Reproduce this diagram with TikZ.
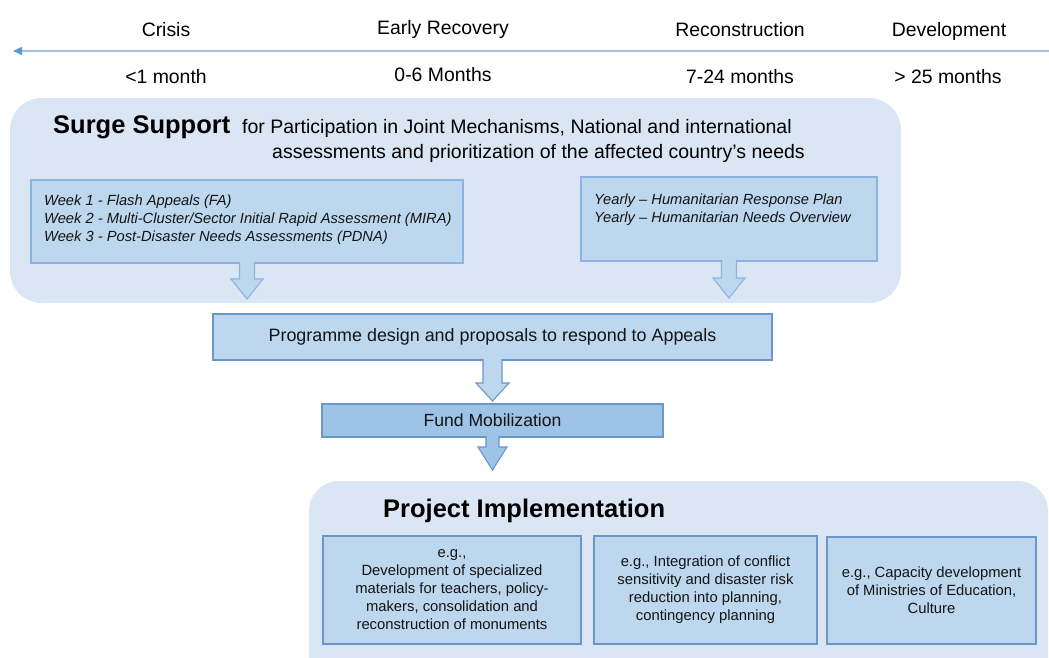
\documentclass[tikz,border=0pt]{standalone}
\usepackage{fontspec}
\setmainfont{Liberation Sans}
\usetikzlibrary{arrows.meta,calc}

\definecolor{panel}{HTML}{DAE6F3}
\definecolor{cell}{HTML}{BDD7EE}
\definecolor{cellline}{HTML}{8DB3E2}
\definecolor{boxline}{HTML}{6A96CB}
\definecolor{fundfill}{HTML}{9DC3E6}
\definecolor{tlline}{HTML}{9DC3E6}
\definecolor{tlhead}{HTML}{5B9BD5}
\definecolor{ink}{HTML}{141414}

\newcommand\setfs[2]{\fontsize{#1}{#2}\selectfont}

% downward block arrow: style, start, tip, shaft half width, head half width, head length
\newcommand\blockarrow[6]{%
  \path[#1] let \p1=(#2), \p2=(#3) in
    (\x1-#4pt,\y1) -- (\x1-#4pt,\y2+#6pt) -- (\x1-#5pt,\y2+#6pt) -- (\x2,\y2)
    -- (\x1+#5pt,\y2+#6pt) -- (\x1+#4pt,\y2+#6pt) -- (\x1+#4pt,\y1);
}

\tikzset{
  panelbox/.style={fill=panel, draw=none, rounded corners=32pt},
  cellbox/.style={draw=cellline, fill=cell, line width=1.1pt, inner sep=0pt, outer sep=0pt, anchor=north west},
  stepbox/.style={draw=boxline, fill=cell, line width=1.1pt, inner sep=0pt, outer sep=0pt, anchor=north west,
    font=\setfs{17.9}{21}, text=ink},
  fundbox/.style={stepbox, fill=fundfill, font=\setfs{17.6}{20}},
  projbox/.style={stepbox, align=center, font=\setfs{14.8}{18}},
  phase/.style={anchor=base, inner sep=0pt, font=\setfs{19.4}{23}, text=black},
  heading/.style={anchor=base west, inner sep=0pt, font=\setfs{25.5}{30}\bfseries, text=black},
  subhead/.style={anchor=base west, inner sep=0pt, font=\setfs{19.5}{23}, text=black},
  itline/.style={anchor=base west, inner sep=0pt, font=\setfs{14.7}{18}\itshape, text=ink},
  sarrow/.style={fill=cell, draw=cellline, line width=1.1pt, line join=miter},
  parrow/.style={fill=cell, draw=boxline, line width=1.1pt, line join=miter},
  farrow/.style={fill=fundfill, draw=boxline, line width=1.1pt, line join=miter},
  tl/.style={draw=tlline, line width=1.4pt, -{Triangle[length=9pt,width=8pt,color=tlhead]}}
}

\begin{document}
\begin{tikzpicture}[x=1pt, y=-1pt]
\useasboundingbox (0,0) rectangle (1049,657);
\clip (0,0) rectangle (1049,657);

% timeline
\coordinate (tlR) at (1049,51);
\coordinate (tlL) at (13,51);
\draw[tl] (tlR) -- (tlL);

\node[phase] (crisis) at (166,36) {Crisis};
\node[phase] (early)  at (443,34) {Early Recovery};
\node[phase] (recon)  at (740,36) {Reconstruction};
\node[phase] (devel)  at (949,36) {Development};
\node[phase] (tcrisis) at (166,83) {<1 month};
\node[phase] (tearly)  at (443,81) {0-6 Months};
\node[phase] (trecon)  at (740,83) {7-24 months};
\node[phase] (tdevel)  at (948,83) {> 25 months};

% surge support panel
\fill[panelbox] (10,98) rectangle (901,303);
\node[heading] (surge) at (53,133) {Surge Support};
\node[subhead] (surge1) at (242,133) {for Participation in Joint Mechanisms, National and international};
\node[subhead] (surge2) at (272,158) {assessments and prioritization of the affected country’s needs};

\node[cellbox, minimum width=432, minimum height=83] (lbox) at (31,180) {};
\node[itline] (w1) at (44,205) {Week 1 - Flash Appeals (FA)};
\node[itline] (w2) at (44,223) {Week 2 - Multi-Cluster/Sector Initial Rapid Assessment (MIRA)};
\node[itline] (w3) at (44,241) {Week 3 - Post-Disaster Needs Assessments (PDNA)};

\node[cellbox, minimum width=296, minimum height=84] (rbox) at (581,177) {};
\node[itline] (y1) at (594,204) {Yearly – Humanitarian Response Plan};
\node[itline] (y2) at (594,222) {Yearly – Humanitarian Needs Overview};

\coordinate (ltip) at (247,299);
\coordinate (rtip) at (729,298);
\blockarrow{sarrow}{[yshift=1pt]lbox.south}{ltip}{7.5}{16}{20}
\blockarrow{sarrow}{[yshift=1pt]rbox.south}{rtip}{7.5}{16}{20}

% programme and funding steps
\node[stepbox, minimum width=559, minimum height=46] (prog) at (213,314)
  {Programme design and proposals to respond to Appeals};
\node[fundbox, minimum width=341, minimum height=33] (fund) at (322,404)
  {Fund Mobilization};
\blockarrow{parrow}{[yshift=1pt]prog.south}{[yshift=3pt]fund.north}{9.5}{16.5}{18}

% project implementation panel
\fill[panelbox, rounded corners=30pt] (309,481) rectangle (1048,720);
\coordinate (ftip) at (492.5,470);
\blockarrow{farrow}{[yshift=1pt]fund.south}{ftip}{6.5}{14.5}{23}
\node[heading] (proj) at (383,517) {Project Implementation};

\node[projbox, minimum width=258, minimum height=108] (p1) at (323,536)
  {e.g.,\\Development of specialized\\materials for teachers, policy-\\makers, consolidation and\\reconstruction of monuments};
\node[projbox, minimum width=223, minimum height=108] (p2) at (594,536)
  {e.g., Integration of conflict\\sensitivity and disaster risk\\reduction into planning,\\contingency planning};
\node[projbox, minimum width=209, minimum height=107] (p3) at (827,537)
  {e.g., Capacity development\\of Ministries of Education,\\Culture};
\end{tikzpicture}
\end{document}
